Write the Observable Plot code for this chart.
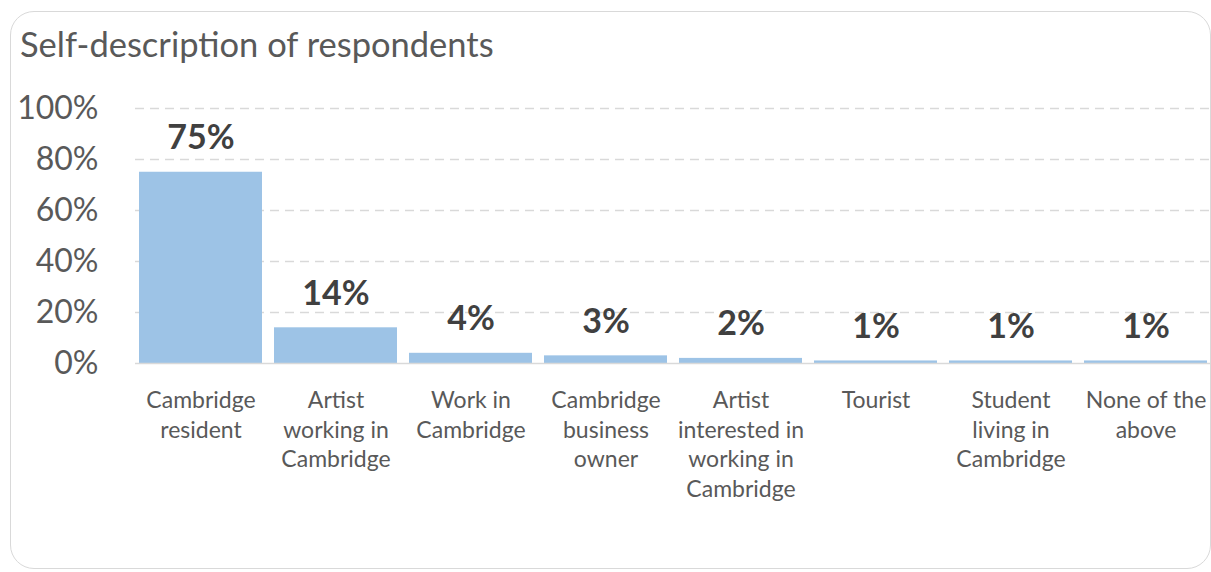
<!DOCTYPE html>
<html>
<head>
<meta charset="utf-8">
<script src="https://cdn.jsdelivr.net/npm/d3@7"></script>
<script src="https://cdn.jsdelivr.net/npm/@observablehq/plot@0.6"></script>
<style>
  html, body { margin: 0; padding: 0; background: #fff; }
  #wrap { position: relative; width: 1211px; height: 572px; overflow: hidden; font-family: Lato, "Open Sans", sans-serif; }
  #frame { position: absolute; left: 10px; top: 11px; width: 1199px; height: 556px; border: 1.5px solid #D9D9D9; border-radius: 24px; }
  #title { position: absolute; left: 20px; top: 23px; font-size: 34.5px; color: #595959; white-space: nowrap; }
  #chart { position: absolute; left: 0; top: 0; }
</style>
</head>
<body>
<div id="wrap">
  <div id="frame"></div>
  <div id="title">Self-description of respondents</div>
  <div id="chart"></div>
</div>
<script>
const categories = ["Cambridge resident", "Artist working in Cambridge", "Work in Cambridge", "Cambridge business owner", "Artist interested in working in Cambridge", "Tourist", "Student living in Cambridge", "None of the above"];
const tickLabels = ["Cambridge\nresident", "Artist\nworking in\nCambridge", "Work in\nCambridge", "Cambridge\nbusiness\nowner", "Artist\ninterested in\nworking in\nCambridge", "Tourist", "Student\nliving in\nCambridge", "None of the\nabove"];
const values = [0.75, 0.14, 0.04, 0.03, 0.02, 0.01, 0.01, 0.01];
const valueLabels = ["75%", "14%", "4%", "3%", "2%", "1%", "1%", "1%"];
const yTicks = [0, 0.2, 0.4, 0.6, 0.8, 1.0];

const data = categories.map((c, i) => ({category: c, value: values[i], label: valueLabels[i]}));
const labelOf = new Map(categories.map((c, i) => [c, tickLabels[i]]));

const chart = Plot.plot({
  width: 1211,
  height: 572,
  marginTop: 108,
  marginBottom: 209,
  marginLeft: 135,
  marginRight: 0,
  style: {fontFamily: "Lato, 'Open Sans', sans-serif", background: "transparent", overflow: "visible"},
  x: {domain: categories, paddingInner: 0.09, paddingOuter: 0.03, label: null},
  y: {domain: [0, 1], label: null},
  marks: [
    Plot.gridY(yTicks.slice(1), {stroke: "#D9D9D9", strokeOpacity: 1, strokeWidth: 1.5, strokeDasharray: "9,6"}),
    Plot.barY(data, {x: "category", y: "value", fill: "#9DC3E6"}),
    Plot.ruleY([0], {stroke: "#D9D9D9", strokeWidth: 1.5}),
    Plot.text(data, {x: "category", y: "value", text: "label", dy: -34, fontSize: 34, fontWeight: "bold", fill: "#404040"}),
    Plot.axisY(yTicks, {tickFormat: d3.format(".0%"), tickSize: 0, tickPadding: 37, fontSize: 32, fill: "#595959", label: null}),
    Plot.axisX({tickSize: 0, tickPadding: 24, tickFormat: d => labelOf.get(d), fontSize: 23, lineHeight: 1.28, fill: "#595959", label: null, textOverflow: null})
  ]
});
document.getElementById("chart").appendChild(chart);
</script>
</body>
</html>
